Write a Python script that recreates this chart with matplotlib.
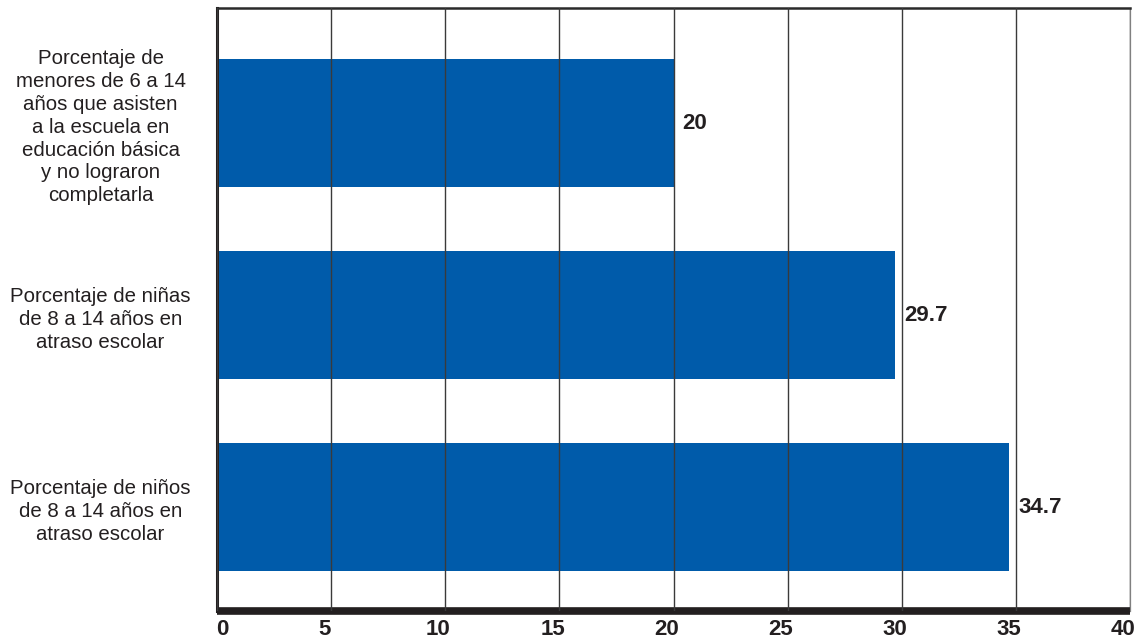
import matplotlib.pyplot as plt
from matplotlib.transforms import ScaledTranslation

plt.rcParams['font.family'] = ['Liberation Sans', 'DejaVu Sans']

categorias = [
    'Porcentaje de\nmenores de 6 a 14\naños que asisten\na la escuela en\neducación básica\ny no lograron\ncompletarla',
    'Porcentaje de niñas\nde 8 a 14 años en\natraso escolar',
    'Porcentaje de niños\nde 8 a 14 años en\natraso escolar',
]
valores = [20, 29.7, 34.7]
ticks_x = [0, 5, 10, 15, 20, 25, 30, 35, 40]

fig = plt.figure(figsize=(11.43, 6.43), dpi=100, facecolor='w')
ax = fig.add_axes([0.19, 0.05, 0.7986, 0.9376])

pos = range(len(categorias))
ax.barh(pos, valores, height=0.667, color='#005baa', zorder=1)

for p, v in zip(pos, valores):
    ax.text(v + 0.4, p, str(v), va='center', ha='left',
            fontsize=16, fontweight='bold', color='#231f20')

ax.set_xlim(0, 40)
ax.set_ylim(2.54, -0.6)
ax.set_xticks(ticks_x)
ax.set_xticklabels([str(t) for t in ticks_x], fontsize=16, fontweight='bold', color='#231f20')
ax.set_yticks(list(pos))
ax.set_yticklabels(categorias, fontsize=14.7, color='#231f20', linespacing=1.26)
for lbl in ax.get_yticklabels():
    lbl.set_ha('center')
    lbl.set_multialignment('center')
ax.tick_params(axis='y', length=0, pad=84)
ax.tick_params(axis='x', length=0, pad=6)

# nudge the x labels a little left of their gridlines, the zero to the right
for i, lbl in enumerate(ax.get_xticklabels()):
    dx = 4 / 72 if i == 0 else -5 / 72
    lbl.set_transform(lbl.get_transform() + ScaledTranslation(dx, 0, fig.dpi_scale_trans))

ax.xaxis.grid(True, color='#3a3a3a', linewidth=1.0, zorder=2)
ax.set_axisbelow(False)

ax.spines['left'].set_linewidth(2.2)
ax.spines['left'].set_color('#231f20')
ax.spines['top'].set_linewidth(1.8)
ax.spines['top'].set_color('#2a2a2a')
ax.spines['right'].set_linewidth(0.9)
ax.spines['right'].set_color('#808080')
ax.spines['bottom'].set_linewidth(5.5)
ax.spines['bottom'].set_color('#231f20')
ax.spines['bottom'].set_capstyle('butt')

fig.savefig('out.png', dpi=100)
